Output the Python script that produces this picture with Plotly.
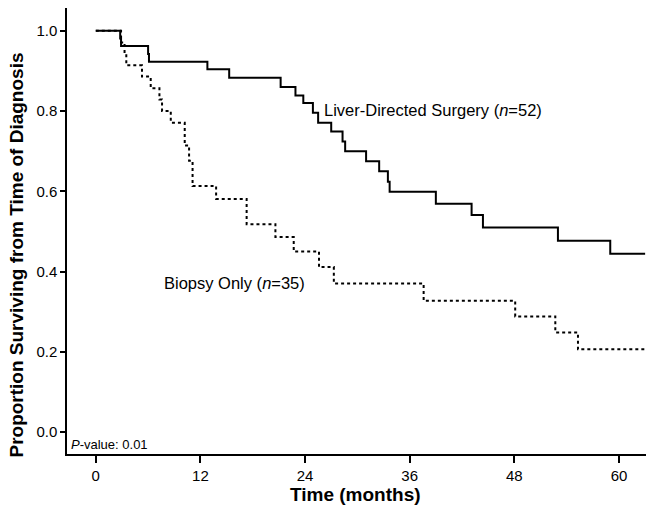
import plotly.graph_objects as go

# Liver-Directed Surgery (n=52) Kaplan-Meier step values
surgery_time = [0, 2.8, 2.9, 6.0, 6.1, 12.8, 15.3, 21.2, 22.9, 23.8, 24.9, 25.5, 27.0,
                28.3, 28.6, 31.0, 32.5, 33.5, 33.7, 39.0, 43.1, 44.4, 53.0, 59.0, 63.0]
surgery_surv = [1.0, 0.981, 0.962, 0.942, 0.923, 0.904, 0.883, 0.86, 0.839, 0.82, 0.796,
                0.771, 0.749, 0.724, 0.70, 0.675, 0.650, 0.624, 0.599, 0.569, 0.541, 0.51,
                0.477, 0.444, 0.444]

# Biopsy Only (n=35)
biopsy_time = [0, 2.9, 3.3, 3.5, 5.3, 6.3, 7.3, 7.6, 8.6, 10.2, 10.7, 11.1, 13.8, 17.3,
               20.6, 22.7, 25.6, 27.3, 37.6, 48.1, 52.7, 55.3, 63.0]
biopsy_surv = [1.0, 0.971, 0.943, 0.914, 0.886, 0.857, 0.829, 0.80, 0.771, 0.714, 0.676,
               0.613, 0.581, 0.518, 0.486, 0.45, 0.411, 0.37, 0.327, 0.288, 0.248, 0.206,
               0.206]

x_ticks = [0, 12, 24, 36, 48, 60]
y_ticks = [0.0, 0.2, 0.4, 0.6, 0.8, 1.0]
y_tick_text = ["0.0", "0.2", "0.4", "0.6", "0.8", "1.0"]

tick_font = dict(family="Liberation Sans, Arial", size=15, color="black")
title_font = dict(family="Liberation Sans, Arial", size=19, color="black")
text_font = dict(family="Liberation Sans, Arial", size=16.5, color="black")

fig = go.Figure()
fig.add_trace(go.Scatter(x=biopsy_time, y=biopsy_surv, mode="lines", line_shape="hv",
                         line=dict(color="black", width=2, dash="dot"), showlegend=False,
                         name="Biopsy Only"))
fig.add_trace(go.Scatter(x=surgery_time, y=surgery_surv, mode="lines", line_shape="hv",
                         line=dict(color="black", width=2), showlegend=False,
                         name="Liver-Directed Surgery"))

fig.update_layout(
    width=654, height=510,
    margin=dict(l=67, r=8, t=8, b=56),
    paper_bgcolor="white", plot_bgcolor="white",
    xaxis=dict(range=[-3.3, 63.1], tickvals=x_ticks, ticks="outside", ticklen=7,
               tickwidth=1.5, tickcolor="black", showline=True, linecolor="black",
               linewidth=1.5, showgrid=False, zeroline=False, tickfont=tick_font,
               automargin=False),
    yaxis=dict(range=[-0.055, 1.057], tickvals=y_ticks, ticktext=y_tick_text,
               ticks="outside", ticklen=5, tickwidth=1.5, tickcolor="black",
               showline=True, linecolor="black", linewidth=1.5, showgrid=False,
               zeroline=False, tickfont=tick_font, automargin=False),
    annotations=[
        dict(x=0.499, y=0, xref="paper", yref="paper", yshift=-40,
             text="<b>Time (months)</b>", showarrow=False, xanchor="center",
             yanchor="middle", font=title_font),
        dict(x=0, y=0.445, xref="paper", yref="paper", xshift=-50,
             text="<b>Proportion Surviving from Time of Diagnosis</b>", textangle=-90,
             showarrow=False, xanchor="center", yanchor="middle", font=title_font),
        dict(x=25.9, y=0.803, xref="x", yref="y", text="Liver-Directed Surgery (<i>n</i>=52)",
             showarrow=False, xanchor="left", yanchor="middle", font=text_font),
        dict(x=7.6, y=0.372, xref="x", yref="y", text="Biopsy Only (<i>n</i>=35)",
             showarrow=False, xanchor="left", yanchor="middle", font=text_font),
        dict(x=-3.1, y=-0.032, xref="x", yref="y", text="<i>P</i>-value: 0.01",
             showarrow=False, xanchor="left", yanchor="middle",
             font=dict(family="Liberation Sans, Arial", size=13, color="black")),
    ],
)

fig.write_html("out.html", config={"displayModeBar": False},
               post_script="document.body.style.margin='0';document.body.style.padding='0';")
